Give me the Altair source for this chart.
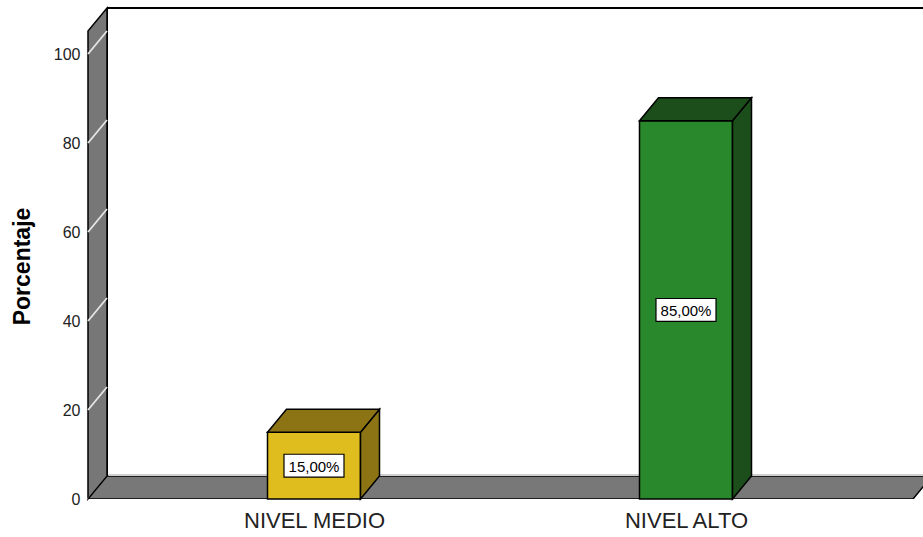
import altair as alt
import pandas as pd

# ---------------- data ----------------
categories = ["NIVEL MEDIO", "NIVEL ALTO"]
percentages = [15.0, 85.0]
front_colors = ["#E0BD1F", "#2A882C"]
shade_colors = ["#8C7415", "#1B4E1B"]
y_ticks = [0, 20, 40, 60, 80, 100]

# ---------------- layout constants (pixels -> data units) ----------------
PLOT_W, PLOT_H = 835, 491
PX_PER_CAT = 372.0          # distance between category centres
PX_PER_PCT = 4.45           # pixels per percentage point
X_MIN = 0.5 - 226.0 / PX_PER_CAT
X_MAX = X_MIN + PLOT_W / PX_PER_CAT
Y_MAX = PLOT_H / PX_PER_PCT
DX = 19.0 / PX_PER_CAT      # depth offset (x)
DY = 23.0 / PX_PER_PCT      # depth offset (y)
HALF = 46.5 / PX_PER_CAT    # half bar width
FLOOR_END = X_MIN + 825.0 / PX_PER_CAT

centers = [i + 0.5 for i in range(len(categories))]

xs = alt.Scale(domain=[X_MIN, X_MAX], nice=False, zero=False)
ys = alt.Scale(domain=[0, Y_MAX], nice=False, zero=False)

label_expr = "[" + ",".join("'" + c + "'" for c in categories) + "][floor(datum.value)]"

x_axis = alt.Axis(values=centers, labelExpr=label_expr, domain=False,
                  ticks=False, tickSize=0, grid=False, labelPadding=11,
                  labelFontSize=22, labelColor="#222222",
                  labelFont="Liberation Sans", title=None)
y_axis = alt.Axis(values=y_ticks, domain=False, ticks=False, tickSize=0,
                  grid=False, labelPadding=8, labelFontSize=16,
                  labelColor="#222222", labelFont="Liberation Sans",
                  title="Porcentaje", titleFontSize=23, titleFontWeight="bold",
                  titleFont="Liberation Sans", titleColor="black",
                  titlePadding=19, titleY=258)


def X(f="x"):
    return alt.X(f"{f}:Q", scale=xs, axis=x_axis, title=None)


def Y(f="y"):
    return alt.Y(f"{f}:Q", scale=ys, axis=y_axis, title="Porcentaje")


# ---------------- frame: back wall lines ----------------
back_top = pd.DataFrame({"x": [X_MIN + DX], "x2": [X_MAX], "y": [Y_MAX]})
back_vert = pd.DataFrame({"x": [X_MIN + DX], "y": [DY], "y2": [Y_MAX]})
l_back_top = alt.Chart(back_top).mark_rule(color="black", strokeWidth=2).encode(
    x=X(), x2="x2:Q", y=Y())
l_back_vert = alt.Chart(back_vert).mark_rule(color="black", strokeWidth=2).encode(
    x=X(), y=Y(), y2="y2:Q")

# left wall (parallelogram)
left_wall = pd.DataFrame({
    "x": [X_MIN, X_MIN + DX],
    "y": [0, DY],
    "y2": [Y_MAX - DY, Y_MAX],
})
l_left = alt.Chart(left_wall).mark_area(
    color="#777777", stroke="black", strokeWidth=1.5, orient="vertical"
).encode(x=X(), y=Y(), y2="y2:Q")

# tick lines on left wall
tick_df = pd.DataFrame({
    "x": [X_MIN] * len(y_ticks),
    "x2": [X_MIN + DX] * len(y_ticks),
    "y": y_ticks,
    "y2": [t + DY for t in y_ticks],
})
l_ticks = alt.Chart(tick_df).mark_rule(color="#e6e6e6", strokeWidth=1.8).encode(
    x=X(), x2="x2:Q", y=Y(), y2="y2:Q")

# floor (parallelogram)
floor_df = pd.DataFrame({
    "y": [0, DY],
    "x": [X_MIN, X_MIN + DX],
    "x2": [FLOOR_END, FLOOR_END + DX],
})
l_floor = alt.Chart(floor_df).mark_area(
    color="#787878", stroke="black", strokeWidth=1.5, orient="horizontal", clip=True
).encode(y=Y(), x=X(), x2="x2:Q")

floor_edge = pd.DataFrame({"x": [X_MIN + DX + 0.004], "x2": [X_MAX], "y": [DY + 0.25]})
l_floor_edge = alt.Chart(floor_edge).mark_rule(color="#cfcfcf", strokeWidth=2).encode(
    x=X(), x2="x2:Q", y=Y())

# ---------------- bars ----------------
front = pd.DataFrame({
    "cat": categories,
    "x": [c - HALF for c in centers],
    "x2": [c + HALF for c in centers],
    "y": [0.0] * len(categories),
    "y2": percentages,
    "col": front_colors,
})

side_rows, top_rows = [], []
for cat, c, v, sc in zip(categories, centers, percentages, shade_colors):
    side_rows += [
        {"cat": cat, "x": c + HALF, "y": 0.0, "y2": v, "col": sc},
        {"cat": cat, "x": c + HALF + DX, "y": DY, "y2": v + DY, "col": sc},
    ]
    top_rows += [
        {"cat": cat, "y": v, "x": c - HALF, "x2": c + HALF, "col": sc},
        {"cat": cat, "y": v + DY, "x": c - HALF + DX, "x2": c + HALF + DX, "col": sc},
    ]
side = pd.DataFrame(side_rows)
top = pd.DataFrame(top_rows)

l_front = alt.Chart(front).mark_rect(stroke="black", strokeWidth=1.5).encode(
    x=X(), x2="x2:Q", y=Y(), y2="y2:Q",
    fill=alt.Fill("col:N", scale=None),
)

l_side = alt.Chart(side).mark_area(stroke="black", strokeWidth=1.5, orient="vertical").encode(
    x=X(), y=Y(), y2="y2:Q", detail="cat:N", fill=alt.Fill("col:N", scale=None))

l_top = alt.Chart(top).mark_area(stroke="black", strokeWidth=1.5, orient="horizontal").encode(
    y=Y(), x=X(), x2="x2:Q", detail="cat:N", fill=alt.Fill("col:N", scale=None))

# ---------------- value labels ----------------
lab = pd.DataFrame({
    "x": centers,
    "y": [v / 2 for v in percentages],
    "txt": [f"{v:.2f}".replace(".", ",") + "%" for v in percentages],
})
box_shape = "M-1,-0.38L1,-0.38L1,0.38L-1,0.38Z"
l_box = alt.Chart(lab).mark_point(
    shape=box_shape, size=60 * 60, filled=True, fill="white", stroke="black",
    strokeWidth=1.2, opacity=1
).encode(x=X(), y=Y())
l_txt = alt.Chart(lab).mark_text(
    fontSize=15, font="Liberation Sans", color="black", baseline="middle", dy=1
).encode(x=X(), y=Y(), text="txt:N")

chart = alt.layer(
    l_back_top, l_back_vert, l_left, l_ticks, l_floor, l_floor_edge,
    l_front, l_side, l_top, l_box, l_txt
).properties(
    width=PLOT_W, height=PLOT_H,
    padding={"left": 88, "top": 8, "right": 0, "bottom": 38},
    autosize=alt.AutoSizeParams(type="none"),
    background="white",
).configure_view(stroke=None)

chart.save("out.html", embed_options={"renderer": "svg", "actions": False})
